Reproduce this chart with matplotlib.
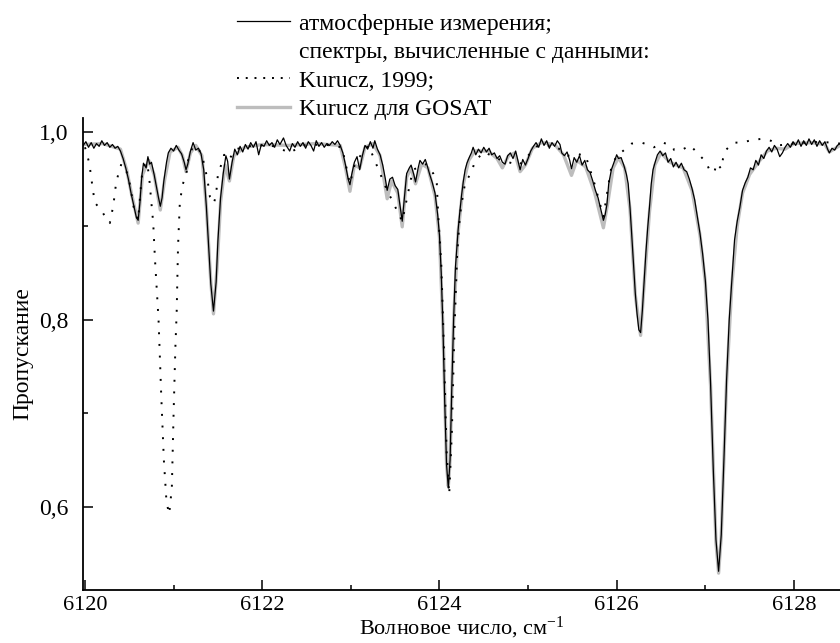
import matplotlib
matplotlib.use('Agg')
import matplotlib.pyplot as plt
from matplotlib.lines import Line2D
from matplotlib.ticker import MultipleLocator, FuncFormatter

plt.rcParams['font.family'] = ['Liberation Serif', 'DejaVu Serif']
plt.rcParams['mathtext.fontset'] = 'custom'
plt.rcParams['mathtext.rm'] = 'Liberation Serif'
plt.rcParams['mathtext.it'] = 'Liberation Serif:italic'

meas_x = [6119.98, 6120.01, 6120.04, 6120.07, 6120.10, 6120.13, 6120.16, 6120.19, 6120.22, 6120.25,
          6120.28, 6120.31, 6120.34, 6120.37, 6120.40, 6120.43, 6120.46, 6120.49, 6120.52, 6120.55,
          6120.58, 6120.60, 6120.62, 6120.64, 6120.66, 6120.69, 6120.71, 6120.73, 6120.75, 6120.78,
          6120.81, 6120.83, 6120.85, 6120.87, 6120.89, 6120.92, 6120.94, 6120.97, 6121.00, 6121.03,
          6121.06, 6121.09, 6121.12, 6121.14, 6121.16, 6121.19, 6121.22, 6121.25, 6121.28, 6121.31,
          6121.34, 6121.37, 6121.40, 6121.42, 6121.45, 6121.48, 6121.50, 6121.53, 6121.56, 6121.59,
          6121.61, 6121.63, 6121.66, 6121.69, 6121.72, 6121.75, 6121.78, 6121.81, 6121.84, 6121.87,
          6121.90, 6121.93, 6121.96, 6121.99, 6122.02, 6122.05, 6122.08, 6122.11, 6122.14, 6122.17,
          6122.20, 6122.24, 6122.27, 6122.31, 6122.34, 6122.37, 6122.40, 6122.43, 6122.46, 6122.49,
          6122.52, 6122.55, 6122.58, 6122.61, 6122.64, 6122.67, 6122.70, 6122.73, 6122.76, 6122.79,
          6122.82, 6122.85, 6122.88, 6122.91, 6122.94, 6122.97, 6122.99, 6123.01, 6123.04, 6123.07,
          6123.10, 6123.13, 6123.16, 6123.19, 6123.22, 6123.25, 6123.27, 6123.30, 6123.33, 6123.36,
          6123.39, 6123.41, 6123.44, 6123.47, 6123.50, 6123.53, 6123.55, 6123.58, 6123.61, 6123.63,
          6123.66, 6123.68, 6123.71, 6123.73, 6123.76, 6123.78, 6123.81, 6123.84, 6123.86, 6123.89,
          6123.92, 6123.95, 6123.98, 6124.00, 6124.02, 6124.04, 6124.06, 6124.08, 6124.10, 6124.12,
          6124.14, 6124.16, 6124.18, 6124.21, 6124.23, 6124.25, 6124.27, 6124.29, 6124.31, 6124.34,
          6124.36, 6124.38, 6124.41, 6124.44, 6124.47, 6124.50, 6124.53, 6124.56, 6124.59, 6124.62,
          6124.65, 6124.68, 6124.71, 6124.74, 6124.77, 6124.80, 6124.83, 6124.86, 6124.89, 6124.91,
          6124.94, 6124.97, 6125.00, 6125.03, 6125.06, 6125.09, 6125.12, 6125.15, 6125.18, 6125.21,
          6125.24, 6125.27, 6125.30, 6125.33, 6125.36, 6125.38, 6125.41, 6125.44, 6125.47, 6125.49,
          6125.52, 6125.55, 6125.58, 6125.61, 6125.64, 6125.67, 6125.70, 6125.73, 6125.76, 6125.79,
          6125.82, 6125.85, 6125.87, 6125.89, 6125.91, 6125.94, 6125.97, 6126.00, 6126.02, 6126.05,
          6126.08, 6126.11, 6126.13, 6126.15, 6126.17, 6126.19, 6126.21, 6126.23, 6126.25, 6126.27,
          6126.29, 6126.31, 6126.33, 6126.35, 6126.37, 6126.39, 6126.41, 6126.44, 6126.46, 6126.49,
          6126.52, 6126.55, 6126.58, 6126.61, 6126.64, 6126.67, 6126.70, 6126.73, 6126.76, 6126.79,
          6126.82, 6126.85, 6126.88, 6126.91, 6126.94, 6126.97, 6127.00, 6127.03, 6127.06, 6127.09,
          6127.12, 6127.15, 6127.18, 6127.21, 6127.24, 6127.27, 6127.30, 6127.33, 6127.36, 6127.39,
          6127.42, 6127.45, 6127.48, 6127.51, 6127.54, 6127.57, 6127.60, 6127.63, 6127.66, 6127.69,
          6127.72, 6127.75, 6127.78, 6127.81, 6127.84, 6127.87, 6127.90, 6127.93, 6127.96, 6127.99,
          6128.02, 6128.05, 6128.08, 6128.11, 6128.14, 6128.17, 6128.20, 6128.23, 6128.26, 6128.29,
          6128.32, 6128.35, 6128.38, 6128.40, 6128.43, 6128.46, 6128.49, 6128.52]
meas_y = [0.986, 0.990, 0.984, 0.989, 0.983, 0.988, 0.985, 0.991, 0.986, 0.989,
          0.984, 0.987, 0.983, 0.985, 0.980, 0.972, 0.962, 0.950, 0.935, 0.922,
          0.909, 0.906, 0.925, 0.952, 0.967, 0.962, 0.974, 0.966, 0.968, 0.955,
          0.940, 0.930, 0.921, 0.930, 0.948, 0.968, 0.978, 0.983, 0.980, 0.986,
          0.981, 0.977, 0.968, 0.960, 0.966, 0.980, 0.989, 0.981, 0.983, 0.977,
          0.960, 0.920, 0.872, 0.838, 0.809, 0.840, 0.884, 0.930, 0.956, 0.975,
          0.969, 0.950, 0.968, 0.982, 0.976, 0.985, 0.979, 0.987, 0.982, 0.989,
          0.984, 0.990, 0.976, 0.987, 0.985, 0.991, 0.986, 0.989, 0.984, 0.992,
          0.987, 0.994, 0.986, 0.980, 0.988, 0.984, 0.990, 0.985, 0.989, 0.983,
          0.990, 0.986, 0.980, 0.991, 0.985, 0.989, 0.984, 0.988, 0.986, 0.990,
          0.987, 0.991, 0.986, 0.978, 0.965, 0.950, 0.944, 0.955, 0.968, 0.974,
          0.960, 0.975, 0.986, 0.982, 0.990, 0.983, 0.991, 0.982, 0.976, 0.965,
          0.950, 0.938, 0.950, 0.952, 0.943, 0.939, 0.925, 0.905, 0.935, 0.956,
          0.962, 0.965, 0.955, 0.947, 0.962, 0.970, 0.966, 0.971, 0.965, 0.955,
          0.946, 0.935, 0.912, 0.890, 0.850, 0.790, 0.710, 0.645, 0.620, 0.650,
          0.730, 0.800, 0.855, 0.895, 0.915, 0.933, 0.948, 0.960, 0.967, 0.974,
          0.978, 0.984, 0.976, 0.982, 0.978, 0.984, 0.979, 0.983, 0.976, 0.978,
          0.972, 0.975, 0.968, 0.966, 0.975, 0.978, 0.972, 0.980, 0.968, 0.960,
          0.971, 0.965, 0.972, 0.980, 0.985, 0.989, 0.984, 0.993, 0.986, 0.991,
          0.983, 0.989, 0.985, 0.991, 0.987, 0.978, 0.975, 0.979, 0.970, 0.961,
          0.973, 0.968, 0.975, 0.965, 0.970, 0.960, 0.957, 0.948, 0.938, 0.930,
          0.918, 0.906, 0.912, 0.923, 0.945, 0.960, 0.968, 0.976, 0.972, 0.973,
          0.965, 0.955, 0.945, 0.920, 0.890, 0.858, 0.828, 0.806, 0.789, 0.786,
          0.810, 0.842, 0.872, 0.898, 0.920, 0.945, 0.960, 0.970, 0.976, 0.980,
          0.975, 0.978, 0.968, 0.972, 0.963, 0.968, 0.962, 0.967, 0.960, 0.958,
          0.950, 0.940, 0.928, 0.910, 0.892, 0.870, 0.842, 0.800, 0.730, 0.640,
          0.565, 0.531, 0.570, 0.650, 0.735, 0.800, 0.842, 0.885, 0.905, 0.920,
          0.938, 0.946, 0.952, 0.962, 0.960, 0.970, 0.965, 0.976, 0.972, 0.980,
          0.984, 0.979, 0.986, 0.982, 0.974, 0.978, 0.984, 0.988, 0.984, 0.990,
          0.986, 0.992, 0.985, 0.991, 0.986, 0.993, 0.987, 0.992, 0.985, 0.991,
          0.986, 0.990, 0.982, 0.978, 0.983, 0.981, 0.986, 0.988]

# Kurucz, 1999
k99_x = [6120.00, 6120.02, 6120.05, 6120.08, 6120.11, 6120.19, 6120.25, 6120.28, 6120.32, 6120.35,
         6120.38, 6120.41, 6120.45, 6120.50, 6120.55, 6120.60, 6120.64, 6120.68, 6120.71, 6120.73,
         6120.75, 6120.77, 6120.79, 6120.81, 6120.83, 6120.86, 6120.89, 6120.92, 6120.95, 6120.98,
         6121.00, 6121.02, 6121.035, 6121.05, 6121.07, 6121.10, 6121.14, 6121.17, 6121.22, 6121.28,
         6121.33, 6121.355, 6121.38, 6121.41, 6121.455, 6121.48, 6121.50, 6121.54, 6121.57, 6121.62,
         6121.70, 6121.90, 6122.10, 6122.24, 6122.31, 6122.45, 6122.70, 6122.90, 6122.99, 6123.05,
         6123.20, 6123.40, 6123.58, 6123.70, 6123.85, 6123.93, 6123.97, 6123.985, 6124.02, 6124.05,
         6124.08, 6124.11, 6124.14, 6124.17, 6124.20, 6124.23, 6124.25, 6124.29, 6124.34, 6124.37,
         6124.40, 6124.50, 6124.70, 6124.90, 6125.10, 6125.30, 6125.45, 6125.55, 6125.65, 6125.75,
         6125.85, 6125.90, 6125.94, 6126.00, 6126.07, 6126.17, 6126.28, 6126.38, 6126.42, 6126.52,
         6126.62, 6126.65, 6126.73, 6126.83, 6126.92, 6127.01, 6127.05, 6127.10, 6127.13, 6127.18,
         6127.20, 6127.23, 6127.32, 6127.42, 6127.53, 6127.64, 6127.74, 6127.82, 6128.00, 6128.30,
         6128.52]
k99_y = [0.984, 0.978, 0.966, 0.945, 0.925, 0.916, 0.906, 0.903, 0.922, 0.945,
         0.957, 0.966, 0.964, 0.948, 0.920, 0.906, 0.952, 0.968, 0.962, 0.946,
         0.924, 0.903, 0.864, 0.832, 0.800, 0.720, 0.650, 0.605, 0.592, 0.620,
         0.700, 0.770, 0.809, 0.878, 0.924, 0.944, 0.953, 0.974, 0.985, 0.983,
         0.972, 0.961, 0.951, 0.931, 0.924, 0.934, 0.955, 0.966, 0.976, 0.970,
         0.982, 0.986, 0.986, 0.981, 0.978, 0.986, 0.987, 0.984, 0.945, 0.968,
         0.986, 0.940, 0.905, 0.960, 0.966, 0.956, 0.945, 0.913, 0.860, 0.770,
         0.660, 0.613, 0.680, 0.790, 0.870, 0.910, 0.924, 0.946, 0.954, 0.960,
         0.969, 0.979, 0.970, 0.965, 0.985, 0.986, 0.975, 0.977, 0.975, 0.945,
         0.910, 0.940, 0.963, 0.975, 0.980, 0.988, 0.989, 0.986, 0.984, 0.989,
         0.986, 0.981, 0.981, 0.986, 0.977, 0.968, 0.959, 0.957, 0.967, 0.961,
         0.972, 0.981, 0.989, 0.989, 0.992, 0.993, 0.991, 0.986, 0.988, 0.990,
         0.988]

# Kurucz для GOSAT
gosat_x = [6119.98, 6120.20, 6120.40, 6120.47, 6120.53, 6120.60, 6120.65, 6120.72, 6120.78, 6120.85,
           6120.90, 6120.96, 6121.05, 6121.10, 6121.14, 6121.19, 6121.25, 6121.32, 6121.37, 6121.42,
           6121.45, 6121.49, 6121.53, 6121.58, 6121.63, 6121.68, 6121.80, 6122.00, 6122.30, 6122.60,
           6122.88, 6122.94, 6122.99, 6123.04, 6123.10, 6123.16, 6123.25, 6123.33, 6123.41, 6123.46,
           6123.53, 6123.58, 6123.63, 6123.68, 6123.73, 6123.80, 6123.87, 6123.95, 6124.00, 6124.04,
           6124.08, 6124.10, 6124.12, 6124.16, 6124.21, 6124.27, 6124.33, 6124.40, 6124.55, 6124.65,
           6124.71, 6124.78, 6124.85, 6124.91, 6124.97, 6125.05, 6125.15, 6125.30, 6125.40, 6125.49,
           6125.55, 6125.65, 6125.75, 6125.85, 6125.90, 6125.96, 6126.02, 6126.09, 6126.15, 6126.21,
           6126.27, 6126.31, 6126.37, 6126.43, 6126.50, 6126.60, 6126.75, 6126.85, 6126.94, 6127.00,
           6127.06, 6127.12, 6127.15, 6127.18, 6127.24, 6127.30, 6127.36, 6127.42, 6127.50, 6127.60,
           6127.70, 6127.80, 6127.90, 6128.00, 6128.20, 6128.35, 6128.40, 6128.52]
gosat_y = [0.987, 0.988, 0.982, 0.960, 0.932, 0.903, 0.955, 0.970, 0.955, 0.917,
           0.950, 0.979, 0.984, 0.975, 0.958, 0.978, 0.986, 0.975, 0.920, 0.840,
           0.806, 0.855, 0.925, 0.965, 0.948, 0.975, 0.984, 0.987, 0.986, 0.988,
           0.986, 0.962, 0.937, 0.965, 0.962, 0.984, 0.988, 0.975, 0.929, 0.948,
           0.935, 0.899, 0.952, 0.962, 0.945, 0.966, 0.962, 0.932, 0.888, 0.790,
           0.645, 0.622, 0.650, 0.800, 0.893, 0.945, 0.970, 0.980, 0.980, 0.972,
           0.962, 0.975, 0.978, 0.958, 0.965, 0.983, 0.989, 0.987, 0.976, 0.954,
           0.970, 0.963, 0.936, 0.898, 0.925, 0.962, 0.973, 0.962, 0.918, 0.826,
           0.783, 0.838, 0.915, 0.965, 0.978, 0.968, 0.962, 0.938, 0.890, 0.840,
           0.728, 0.562, 0.529, 0.568, 0.733, 0.838, 0.900, 0.935, 0.955, 0.968,
           0.980, 0.983, 0.982, 0.988, 0.989, 0.987, 0.979, 0.986]

legend_labels = ['атмосферные измерения;', 'спектры, вычисленные с данными:',
                 'Kurucz, 1999;', 'Kurucz для GOSAT']
y_ticks = [0.6, 0.8, 1.0]
x_ticks = [6120, 6122, 6124, 6126, 6128]

fs = 17
fig = plt.figure(figsize=(8.4, 6.43), dpi=100)
ax = fig.add_axes([83.3 / 840, 53 / 643, 1 - 83.3 / 840, 472 / 643])

ax.plot(gosat_x, gosat_y, color='#bdbdbd', lw=2.4, solid_joinstyle='round', zorder=1)
ax.plot(k99_x, k99_y, color='black', lw=1.4, linestyle=(0, (1, 5)), zorder=2)
ax.plot(meas_x, meas_y, color='black', lw=0.9, zorder=3)

ax.set_xlim(6119.981, 6128.52)
ax.set_ylim(0.511, 1.0153)

for s in ['top', 'right']:
    ax.spines[s].set_visible(False)
for s in ['left', 'bottom']:
    ax.spines[s].set_linewidth(1.3)

ax.set_xticks(x_ticks)
ax.xaxis.set_minor_locator(MultipleLocator(1))
ax.set_yticks(y_ticks)
ax.yaxis.set_minor_locator(MultipleLocator(0.1))
ax.yaxis.set_major_formatter(FuncFormatter(lambda v, p: f'{v:.1f}'.replace('.', ',')))
ax.tick_params(which='major', direction='in', length=7, width=1.1, labelsize=fs)
ax.tick_params(which='minor', direction='in', length=3.8, width=1.1)
ax.tick_params(axis='x', which='major', pad=4, labelsize=16)
ax.tick_params(axis='y', which='major', pad=11)

ax.set_xlabel('Волновое число, см$^{-1}$', fontsize=16, labelpad=0)
ax.set_ylabel('Пропускание', fontsize=fs, labelpad=4)

handles = [Line2D([], [], color='black', lw=0.9),
           Line2D([], [], color='none'),
           Line2D([], [], color='black', lw=1.4, linestyle=(0, (1, 3.5))),
           Line2D([], [], color='#bdbdbd', lw=2.4)]
fig.legend(handles, legend_labels, loc='upper left', bbox_to_anchor=(237 / 840, 1 - 13 / 643),
           frameon=False, fontsize=fs, handlelength=2.25, handletextpad=0.38,
           labelspacing=0.3, borderpad=0, borderaxespad=0)

fig.savefig('out.png', dpi=100)
